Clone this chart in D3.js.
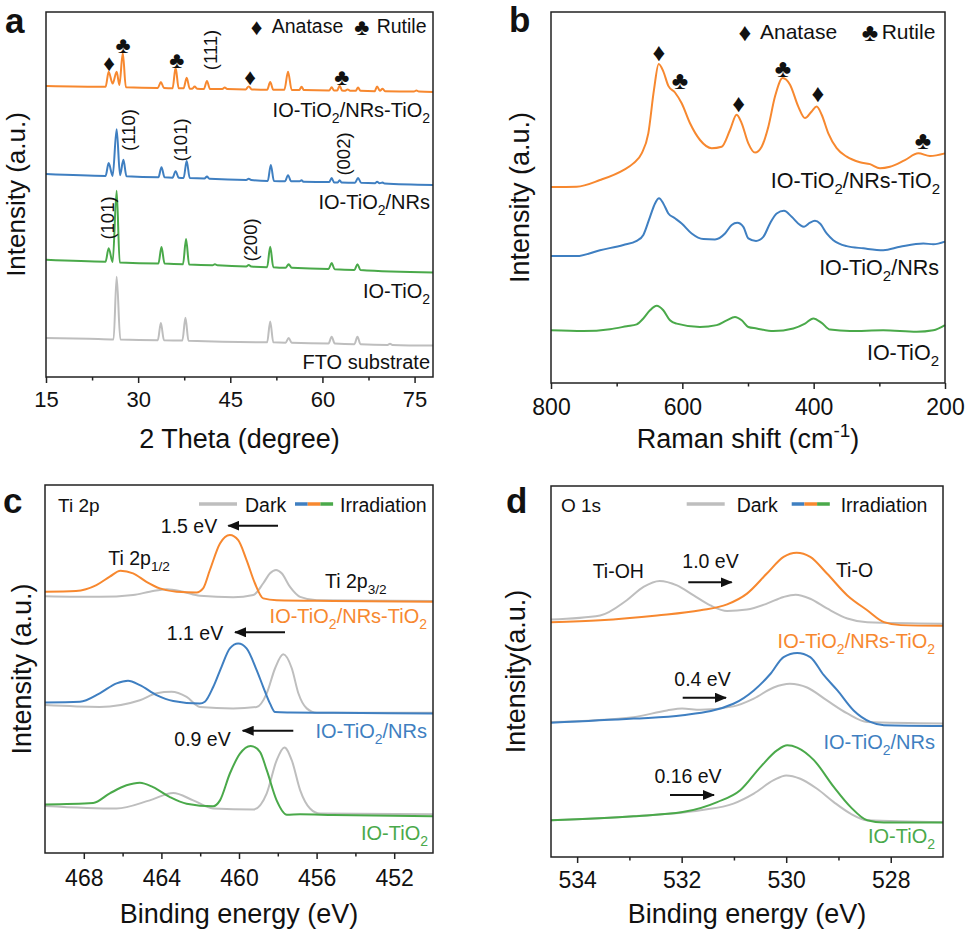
<!DOCTYPE html>
<html>
<head>
<meta charset="utf-8">
<script src="https://cdn.jsdelivr.net/npm/d3@7"></script>
<style>
  body { margin: 0; background: #fff; }
  text { font-family: "Liberation Sans", Arial, sans-serif; }
</style>
</head>
<body>
<div id="chart"></div>
<script>
// ---- data: [x, intensity(offset, a.u.)] ----
// panel a, XRD (2 theta)
var xrdNRsTiO2 = [[15,79.7],[24.7,79.5],[25.2,83.6],[25.85,80.4],[26.5,83.6],[26.95,80.0],[27.5,88.8],[28.0,79.4],[33.2,79.2],[33.7,80.8],[34.2,79.2],[35.6,79.1],[36.1,84.7],[36.6,79.1],[37.4,79.1],[37.9,82.0],[38.4,79.0],[38.8,79.0],[39.2,79.6],[39.6,79.0],[40.7,78.9],[41.2,81.1],[41.7,78.9],[43.7,78.9],[44.1,79.3],[44.5,78.9],[47.5,78.8],[48.0,79.6],[48.5,78.8],[51.0,78.7],[51.5,80.8],[52.0,78.7],[53.8,78.7],[54.4,83.6],[55.0,78.6],[56.2,78.6],[56.6,79.5],[57.0,78.6],[61.1,78.5],[61.5,79.4],[61.9,78.5],[62.4,78.5],[62.8,79.8],[63.2,78.5],[63.7,78.4],[64.1,78.8],[64.5,78.4],[65.4,78.4],[65.8,79.3],[66.2,78.4],[68.5,78.3],[68.9,79.6],[69.35,78.4],[69.8,79.0],[70.2,78.3],[74.9,78.2],[75.3,78.5],[75.7,78.2],[78,78.1]];
var xrdNRs = [[15,55.6],[24.7,55.1],[25.2,58.6],[25.85,55.1],[26.5,67.9],[27.05,55.3],[27.6,59.5],[28.1,55.0],[33.3,54.7],[33.8,57.5],[34.3,54.7],[35.6,54.6],[36.1,56.4],[36.6,54.6],[37.4,54.5],[37.9,59.2],[38.4,54.5],[40.8,54.4],[41.2,54.9],[41.6,54.3],[47.6,54.0],[48.0,54.3],[48.4,54.0],[51.1,53.7],[51.6,58.1],[52.1,53.7],[53.9,53.6],[54.4,55.3],[54.9,53.6],[56.3,53.6],[56.6,53.9],[56.9,53.5],[61.1,53.4],[61.5,54.5],[61.9,53.3],[62.5,53.3],[62.8,53.9],[63.1,53.3],[65.3,53.2],[65.8,54.5],[66.3,53.2],[68.6,53.1],[68.9,53.5],[69.3,53.1],[69.8,53.3],[70.1,53.0],[78,52.6]];
var xrdIO = [[15,32.1],[24.7,31.6],[25.2,35.3],[25.85,31.5],[26.5,51.0],[27.0,31.4],[33.3,31.1],[33.8,35.6],[34.3,31.1],[37.3,30.9],[37.8,37.8],[38.3,30.8],[42.1,30.6],[42.5,30.9],[42.9,30.6],[47.6,30.3],[48.0,30.7],[48.4,30.3],[51.0,30.1],[51.5,35.7],[52.0,30.1],[54.0,29.9],[54.5,30.9],[55.0,29.9],[61.0,29.6],[61.5,31.2],[62.0,29.5],[65.2,29.3],[65.7,30.9],[66.2,29.3],[78,28.6]];
var xrdFTO = [[15,10.7],[22,10.5],[26.0,10.3],[26.5,27.5],[27.1,10.3],[33.2,10.1],[33.7,14.8],[34.2,10.1],[37.2,10.0],[37.7,16.2],[38.2,9.9],[51.0,9.5],[51.5,15.2],[52.0,9.5],[54.0,9.4],[54.5,10.7],[55.0,9.4],[61.0,9.2],[61.5,11.0],[62.0,9.2],[65.2,9.0],[65.7,11.0],[66.2,9.0],[70.6,8.8],[71.0,9.1],[71.4,8.8],[78,8.6]];

// panel b, Raman (cm-1)
var ramanNRsTiO2 = [[800,52.8],[760.9,52.9],[725.4,54.7],[689.8,57.4],[674.6,59.2],[661.9,61.9],[651.8,67.3],[643.2,79.0],[636,86.0],[629,84.0],[621.3,80.1],[611.2,78.3],[601,75.4],[588.3,70.0],[573.1,65.5],[555.3,63.3],[540.1,63.7],[527.4,68.2],[517.3,72.3],[509.6,70.0],[499.5,64.6],[489.3,62.1],[479.2,63.7],[469,69.1],[458.9,77.2],[447.2,82.2],[436,80.4],[423.4,74.5],[413.2,71.4],[403,73.2],[395.4,74.5],[387.8,72.3],[377.7,67.3],[365,63.3],[349.7,61.0],[329.5,59.5],[314.2,59.0],[299,57.9],[283.8,58.3],[261,60.1],[240.7,61.9],[222.9,61.2],[200,61.9]];
var ramanNRs = [[800,34.2],[760.9,34.2],[725.4,35.8],[689.8,37.2],[669.5,38.3],[659.4,39.9],[649.2,44.8],[641.6,48.4],[635.5,49.8],[629,48.4],[621.3,45.7],[611.2,44.4],[601,43.0],[585.8,40.3],[568,38.8],[550.3,38.7],[535,40.3],[524.9,42.6],[516.3,43.2],[507.1,42.1],[499.5,39.0],[487.8,38.3],[476.7,39.4],[466.5,43.0],[456.3,45.7],[445.2,46.4],[433.5,44.8],[420.8,42.6],[414.7,42.1],[405.6,43.2],[398,43.7],[390.4,43.0],[380.2,40.3],[370.1,38.5],[349.7,36.9],[324.4,36.3],[294,35.8],[268.5,36.7],[233,37.6],[217.8,37.4],[200,38.1]];
var ramanIO = [[800,14.2],[750.8,14.0],[710.2,14.5],[684.7,15.3],[669.5,15.8],[659.4,17.4],[649.2,19.6],[639,20.8],[629,19.6],[618.8,16.9],[608.6,16.0],[573.1,15.1],[547.7,15.6],[532.4,16.9],[519.8,17.8],[509.6,16.9],[499.5,15.1],[486.8,14.7],[461.5,14.0],[431,14.7],[413.2,16.0],[400.6,17.4],[387.8,16.2],[375.1,14.4],[344.7,14.0],[294,14.2],[243.1,13.8],[217.8,14.2],[200,15.6]];

// panel c, Ti 2p (eV)
var tiNRsTiO2 = [[470,71.0],[468.4,71.2],[467.35,72.8],[466.66,75.1],[466.11,76.7],[465.46,76.0],[464.77,73.7],[464.08,71.9],[463.22,71.0],[462.19,70.8],[461.85,71.9],[461.5,76.9],[460.98,84.1],[460.47,86.4],[460.04,85.0],[459.61,79.6],[459.18,73.3],[458.75,69.2],[458.06,68.7],[455.14,68.5],[450,68.3]];
var tiDark1 = [[470,69.8],[467.18,69.6],[465.46,70.1],[464.6,71.0],[463.73,71.7],[462.88,71.0],[462.02,69.9],[460.3,69.5],[459.26,70.1],[458.75,73.3],[458.4,76.0],[458.09,76.9],[457.8,76.0],[457.37,72.3],[456.85,69.6],[455.99,68.7],[450,68.5]];
var tiNRs = [[470,40.9],[468.2,41.1],[467.18,43.4],[466.31,46.1],[465.72,46.8],[465.11,45.6],[464.25,42.9],[463.39,41.3],[462.02,40.6],[461.76,41.1],[461.33,45.1],[460.9,50.6],[460.47,55.6],[460.04,56.9],[459.61,55.6],[459.09,49.7],[458.75,45.1],[458.4,40.6],[458.14,38.3],[457.37,38.2],[455.14,38.1],[450,37.9]];
var tiDark2 = [[470,40.2],[467.18,39.7],[465.11,41.5],[464.25,43.4],[463.48,43.8],[462.7,42.4],[462.02,39.7],[460.3,39.3],[459.09,39.7],[458.57,43.4],[458.14,50.2],[457.72,54.0],[457.28,50.2],[456.94,43.4],[456.51,39.3],[455.99,38.1],[450,38.1]];
var tiIO = [[470,13.2],[467.52,13.6],[466.66,16.2],[465.8,18.4],[465.11,19.1],[464.43,17.9],[463.56,15.2],[462.7,13.4],[461.33,12.7],[460.98,14.3],[460.47,21.6],[459.95,27.0],[459.4,29.1],[458.92,27.5],[458.57,22.5],[458.06,14.3],[457.54,10.4],[456.85,10.5],[455.14,10.3],[450,10.0]];
var tiDark3 = [[470,12.8],[466.31,12.1],[464.6,14.3],[463.39,16.3],[462.36,14.3],[461.33,12.1],[459.26,11.8],[458.57,16.2],[458.06,25.2],[457.66,28.7],[457.28,25.2],[456.85,17.1],[456.34,12.1],[455.82,10.7],[450,10.5]];

// panel d, O 1s (eV)
var oNRsTiO2 = [[534.5,63.3],[533.56,63.8],[532.47,65.1],[531.64,66.5],[531.13,68.1],[530.75,71.0],[530.37,76.4],[530.05,80.9],[529.8,82.0],[529.54,80.9],[529.22,76.4],[528.83,70.5],[528.45,66.5],[528.13,63.3],[527.81,62.5],[527,62.3]];
var oDark1 = [[534.5,64.0],[533.56,65.1],[533.05,69.2],[532.73,72.8],[532.42,74.4],[532.09,73.2],[531.77,70.5],[531.45,67.8],[531.13,66.3],[530.75,66.7],[530.37,68.3],[530.05,70.1],[529.82,70.7],[529.54,69.6],[529.22,67.0],[528.83,64.3],[528.45,63.3],[527,62.9]];
var oNRs = [[534.5,36.2],[532.92,37.3],[531.98,38.2],[531.01,41.3],[530.62,44.9],[530.3,49.4],[530.05,53.9],[529.79,55.0],[529.54,53.9],[529.28,49.0],[529.02,44.9],[528.71,39.5],[528.39,36.4],[528.13,35.5],[527,35.3]];
var oDark2 = [[534.5,36.4],[532.92,37.7],[532.28,39.5],[531.99,40.0],[531.64,39.7],[531.01,40.6],[530.62,42.7],[530.24,45.7],[529.93,46.7],[529.6,45.7],[529.22,42.2],[528.83,38.7],[528.45,36.4],[527,36.0]];
var oIO = [[534.5,9.9],[532.92,11.0],[531.98,12.1],[531.32,14.8],[530.88,18.0],[530.49,24.3],[530.17,28.8],[529.98,30.1],[529.79,29.5],[529.47,26.1],[529.09,18.9],[528.77,13.5],[528.45,9.9],[528.13,9.3],[527,9.3]];
var oDark3 = [[534.5,9.9],[532.92,11.0],[531.64,12.6],[531.01,14.4],[530.62,17.1],[530.24,20.7],[530.0,22.0],[529.73,21.1],[529.41,18.4],[529.09,14.8],[528.77,11.7],[528.45,9.9],[527,9.4]];

// tick values
var ticksA = [15, 30, 45, 60, 75], minorA = [22.5, 37.5, 52.5, 67.5];
var ticksB = [800, 600, 400, 200], minorB = [700, 500, 300];
var ticksC = [468, 464, 460, 456, 452], minorC = [466, 462, 458, 454];
var ticksD = [534, 532, 530, 528], minorD = [533, 531, 529];

var orange = "#f7882f", blue = "#3f7fc1", green = "#4aa94a", gray = "#bebebe";

var svg = d3.select("#chart").append("svg")
  .attr("width", 969)
  .attr("height", 933);

svg.append("defs").append("marker")
  .attr("id", "arr")
  .attr("markerUnits", "userSpaceOnUse")
  .attr("viewBox", "0 0 12 10")
  .attr("markerWidth", 12).attr("markerHeight", 10)
  .attr("refX", 11).attr("refY", 5)
  .attr("orient", "auto")
  .append("path").attr("d", "M0,0L12,5L0,10z").attr("fill", "#111");

// text with _sub / ^sup parts
function rich(sel, str) {
  var fs = +sel.attr("font-size");
  var shift = 0;
  str.split(/([_^]\{[^}]*\}|[_^][^{])/).filter(function(s) { return s; }).forEach(function(tok) {
    var t = sel.append("tspan"), target = 0, txt = tok;
    if (tok[0] === "_" || tok[0] === "^") {
      txt = tok[1] === "{" ? tok.slice(2, -1) : tok.slice(1);
      target = tok[0] === "_" ? 0.3 * fs : -0.42 * fs;
      t.attr("font-size", fs * 0.7);
    }
    t.attr("dy", target - shift).text(txt);
    shift = target;
  });
  return sel;
}

function label(x, y, str, fs, anchor, color) {
  var t = svg.append("text")
    .attr("x", x).attr("y", y)
    .attr("font-size", fs)
    .attr("text-anchor", anchor || "start")
    .attr("fill", color || "#111");
  return rich(t, str);
}

function sym(x, y, ch, fs) {
  svg.append("text")
    .attr("x", x).attr("y", y)
    .attr("font-size", fs)
    .attr("font-family", "DejaVu Sans")
    .attr("text-anchor", "middle")
    .attr("dominant-baseline", "central")
    .attr("fill", "#111")
    .text(ch);
}

function miller(x, y, str) {
  svg.append("text")
    .attr("transform", `translate(${x},${y}) rotate(-90)`)
    .attr("font-size", 18.5)
    .attr("text-anchor", "middle")
    .attr("dominant-baseline", "central")
    .attr("fill", "#111")
    .text(str);
}

function arrow(x1, x2, y) {
  svg.append("line")
    .attr("x1", x1).attr("x2", x2).attr("y1", y).attr("y2", y)
    .attr("stroke", "#111").attr("stroke-width", 2)
    .attr("marker-end", "url(#arr)");
}

function makePanel(o) {
  var w = o.right - o.left, h = o.bottom - o.top;
  var g = svg.append("g").attr("transform", `translate(${o.left},${o.top})`);
  var x = d3.scaleLinear().domain(o.xDomain).range([0, w]);
  var y = d3.scaleLinear().domain([0, 100]).range([h, 0]);

  var mi = g.append("g")
    .attr("transform", `translate(0,${h})`)
    .call(d3.axisBottom(x).tickValues(o.minor).tickSize(3.5).tickFormat(""));
  mi.select(".domain").remove();
  mi.selectAll("line").attr("stroke", "#222").attr("stroke-width", 1.5);

  var ax = g.append("g")
    .attr("transform", `translate(0,${h})`)
    .call(d3.axisBottom(x).tickValues(o.major).tickSize(6).tickPadding(o.pad).tickFormat(d3.format("d")));
  ax.select(".domain").remove();
  ax.selectAll("line").attr("stroke", "#222").attr("stroke-width", 1.5);
  ax.selectAll("text")
    .attr("font-size", o.tickFs)
    .attr("font-family", "Liberation Sans, Arial, sans-serif")
    .attr("fill", "#111");

  var t = g.append("text")
    .attr("x", w / 2).attr("y", h + o.titleOff)
    .attr("font-size", 27)
    .attr("text-anchor", "middle")
    .attr("fill", "#111");
  rich(t, o.xTitle);

  svg.append("text")
    .attr("transform", `translate(${o.yTitleX},${o.top + h / 2}) rotate(-90)`)
    .attr("font-size", o.yFs || 27)
    .attr("text-anchor", "middle")
    .attr("fill", "#111")
    .text(o.yTitle);

  svg.append("text")
    .attr("x", o.letter[1]).attr("y", o.letter[2])
    .attr("font-size", 35)
    .attr("font-weight", "bold")
    .attr("fill", "#111")
    .text(o.letter[0]);

  var line = d3.line()
    .x(function(d) { return x(d[0]); })
    .y(function(d) { return y(d[1]); })
    .curve(d3.curveMonotoneX);

  o.series.forEach(function(s) {
    g.append("path")
      .datum(s[0])
      .attr("fill", "none")
      .attr("stroke", s[1])
      .attr("stroke-width", 2)
      .attr("stroke-linejoin", "round")
      .attr("d", line);
  });

  g.append("rect")
    .attr("width", w).attr("height", h)
    .attr("fill", "none")
    .attr("stroke", "#222")
    .attr("stroke-width", 1.5);
  return { g: g, x: x, y: y };
}

// ---- a: XRD ----
makePanel({
  left: 46, right: 433, top: 12, bottom: 377,
  xDomain: [15, 78], major: ticksA, minor: minorA, pad: 8.5, tickFs: 22,
  xTitle: "2 Theta (degree)", titleOff: 71,
  yTitle: "Intensity (a.u.)", yTitleX: 25, yFs: 26,
  letter: ["a", 5, 33],
  series: [[xrdFTO, gray], [xrdIO, green], [xrdNRs, blue], [xrdNRsTiO2, orange]]
});
label(430, 117, "IO-TiO_2/NRs-TiO_2", 20, "end");
label(430, 209, "IO-TiO_2/NRs", 20, "end");
label(430, 298, "IO-TiO_2", 20, "end");
label(430, 369, "FTO substrate", 20, "end");
sym(256.7, 27, "\u2666", 23); label(271.7, 33.3, "Anatase", 19.5);
sym(361.7, 27, "\u2663", 23); label(376.7, 33.3, "Rutile", 19.5);
sym(109, 62.7, "\u2666", 23);
sym(123, 45, "\u2663", 23);
sym(176.7, 60, "\u2663", 23);
sym(250, 77, "\u2666", 23);
sym(341.7, 77, "\u2663", 23);
miller(210.7, 50, "(111)");
miller(128, 130, "(110)");
miller(180, 140, "(101)");
miller(343, 154, "(002)");
miller(107, 218, "(101)");
miller(250, 240, "(200)");

// ---- b: Raman ----
makePanel({
  left: 551, right: 945, top: 12, bottom: 383,
  xDomain: [800, 200], major: ticksB, minor: minorB, pad: 9.5, tickFs: 23,
  xTitle: "Raman shift (cm^{-1})", titleOff: 65,
  yTitle: "Intensity (a.u.)", yTitleX: 529,
  letter: ["b", 509, 32],
  series: [[ramanIO, green], [ramanNRs, blue], [ramanNRsTiO2, orange]]
});
label(940, 188, "IO-TiO_2/NRs-TiO_2", 21.5, "end");
label(939, 275, "IO-TiO_2/NRs", 21.5, "end");
label(939, 360, "IO-TiO_2", 21.5, "end");
sym(745, 32.3, "\u2666", 25); label(760, 39.3, "Anatase", 21);
sym(870, 32.3, "\u2663", 25); label(881.7, 39.3, "Rutile", 21);
sym(659, 52, "\u2666", 25);
sym(680, 80, "\u2663", 25);
sym(738.7, 103, "\u2666", 25);
sym(783, 68, "\u2663", 25);
sym(818, 93, "\u2666", 25);
sym(923, 140, "\u2663", 25);

// ---- c: Ti 2p ----
makePanel({
  left: 45, right: 433, top: 485, bottom: 853,
  xDomain: [470, 450], major: ticksC, minor: minorC, pad: 11, tickFs: 23,
  xTitle: "Binding energy (eV)", titleOff: 70,
  yTitle: "Intensity (a.u.)", yTitleX: 31,
  letter: ["c", 3, 513],
  series: [[tiDark1, gray], [tiDark2, gray], [tiDark3, gray], [tiNRsTiO2, orange], [tiNRs, blue], [tiIO, green]]
});
label(58, 512, "Ti 2p", 19);
function legendLines(gx, mx, y) {
  svg.append("line").attr("x1", gx).attr("x2", gx + 38).attr("y1", y).attr("y2", y)
    .attr("stroke", gray).attr("stroke-width", 3.5);
  [blue, orange, green].forEach(function(c, i) {
    svg.append("line").attr("x1", mx + i * 12.7).attr("x2", mx + (i + 1) * 12.7)
      .attr("y1", y).attr("y2", y).attr("stroke", c).attr("stroke-width", 3.5);
  });
}
legendLines(199, 295, 504);
label(245, 512, "Dark", 19.5);
label(340, 512, "Irradiation", 19.5);
label(189, 533, "1.5 eV", 19.5, "middle"); arrow(278, 228.3, 525.7);
label(108.3, 565, "Ti 2p_{1/2}", 19.5);
label(325, 588, "Ti 2p_{3/2}", 19.5);
label(427, 622.7, "IO-TiO_2/NRs-TiO_2", 20, "end", orange);
label(195, 640, "1.1 eV", 19.5, "middle"); arrow(285, 235, 632.3);
label(427, 738, "IO-TiO_2/NRs", 20, "end", blue);
label(202.5, 746, "0.9 eV", 19.5, "middle"); arrow(293.3, 242.7, 730.7);
label(428, 840, "IO-TiO_2", 20, "end", green);

// ---- d: O 1s ----
makePanel({
  left: 551, right: 943, top: 486, bottom: 857,
  xDomain: [534.5, 527], major: ticksD, minor: minorD, pad: 9, tickFs: 23,
  xTitle: "Binding energy (eV)", titleOff: 66,
  yTitle: "Intensity(a.u.)", yTitleX: 525,
  letter: ["d", 506, 513],
  series: [[oDark1, gray], [oDark2, gray], [oDark3, gray], [oNRsTiO2, orange], [oNRs, blue], [oIO, green]]
});
label(561, 512, "O 1s", 19);
legendLines(686.7, 791.7, 504);
label(736.7, 512, "Dark", 19.5);
label(840.7, 512, "Irradiation", 19.5);
label(618.3, 578, "Ti-OH", 19.5, "middle");
label(710.5, 568, "1.0 eV", 19.5, "middle"); arrow(688.3, 731.7, 582.3);
label(854.5, 577.3, "Ti-O", 19.5, "middle");
label(935, 648, "IO-TiO_2/NRs-TiO_2", 20, "end", orange);
label(702.5, 686, "0.4 eV", 19.5, "middle"); arrow(682.7, 726, 697.7);
label(935, 749, "IO-TiO_2/NRs", 20, "end", blue);
label(688, 783.3, "0.16 eV", 19.5, "middle"); arrow(670, 714, 795);
label(935, 843, "IO-TiO_2", 20, "end", green);
</script>
</body>
</html>
